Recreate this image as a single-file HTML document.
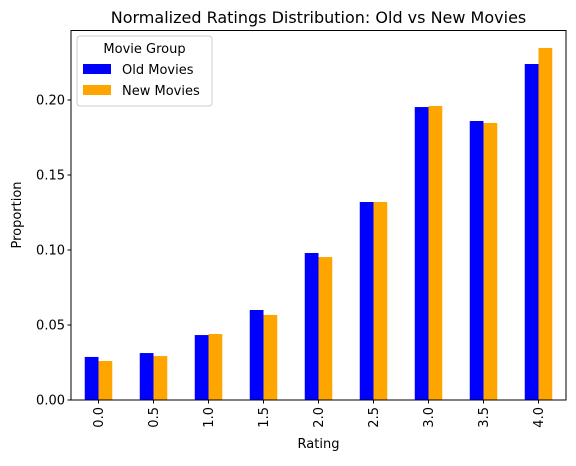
<!DOCTYPE html>
<html><head><meta charset="utf-8"><style>
body{margin:0;background:#fff;font-family:"Liberation Sans","DejaVu Sans",sans-serif}
</style></head><body>
<svg id="c" width="576" height="461" xmlns="http://www.w3.org/2000/svg" font-family="'DejaVu Sans','Liberation Sans',sans-serif">
<text x="318.5" y="23" font-size="16" text-anchor="middle">Normalized Ratings Distribution: Old vs New Movies</text>
<g id="bars"></g><g id="axes"></g>
<rect x="71" y="30.5" width="495" height="369.5" fill="none" stroke="#000" stroke-width="1"/>
<text x="318.5" y="448" font-size="13" text-anchor="middle">Rating</text>
<text transform="translate(21,215) rotate(-90)" font-size="13" text-anchor="middle">Proportion</text>
<g>
<rect x="77" y="36" width="135" height="70" rx="3" fill="#fff" fill-opacity="0.8" stroke="#ccc"/>
<text x="144.5" y="53" font-size="13" text-anchor="middle">Movie Group</text>
<rect x="83" y="64" width="28" height="10" fill="#0000ff"/>
<text x="122" y="74" font-size="13">Old Movies</text>
<rect x="83" y="85" width="28" height="10" fill="#ffa500"/>
<text x="122" y="95" font-size="13">New Movies</text>
</g>
</svg>
<script>
const categories=["0.0","0.5","1.0","1.5","2.0","2.5","3.0","3.5","4.0"];
const oldMovies=[0.0287,0.0313,0.0433,0.060,0.098,0.132,0.1953,0.186,0.224];
const newMovies=[0.026,0.0293,0.044,0.0567,0.0953,0.132,0.196,0.1847,0.2347];
const yTicks=[0,0.05,0.10,0.15,0.20];
const yTickLabels=["0.00","0.05","0.10","0.15","0.20"];
const NS="http://www.w3.org/2000/svg";
const L=71,R=566,B=400,PPU=1500;
const step=(R-L)/categories.length;
function x(i){return L+step*(i+0.5);}
function y(v){return B-v*PPU;}
const bars=document.getElementById('bars'),axes=document.getElementById('axes');
function mk(t,a,p){const e=document.createElementNS(NS,t);for(const k in a)e.setAttribute(k,a[k]);p.appendChild(e);return e;}
const bw=step*0.25;
categories.forEach((c,i)=>{
 const r1=mk('rect',{x:x(i)-bw,y:y(oldMovies[i]),width:bw,height:oldMovies[i]*PPU,fill:'#0000ff'},bars);
 
 
 const r2=mk('rect',{x:x(i),y:y(newMovies[i]),width:bw,height:newMovies[i]*PPU,fill:'#ffa500'},bars);
 
 
 const tk=mk('line',{x1:x(i),x2:x(i),y1:B,y2:B+3.5,stroke:'#000'},axes);
 
 
 const t=mk('text',{transform:`translate(${x(i)+4.5},${B+7}) rotate(-90)`,'font-size':13,'text-anchor':'end'},axes);
 
 
 t.textContent=c;
});
yTicks.forEach((v,i)=>{
 const tk=mk('line',{x1:L-3.5,x2:L,y1:y(v),y2:y(v),stroke:'#000'},axes);
 
 
 const t=mk('text',{x:L-6,y:y(v)+4.5,'font-size':13,'text-anchor':'end'},axes);
 
 
 t.textContent=yTickLabels[i];
});
</script>
</body></html>
